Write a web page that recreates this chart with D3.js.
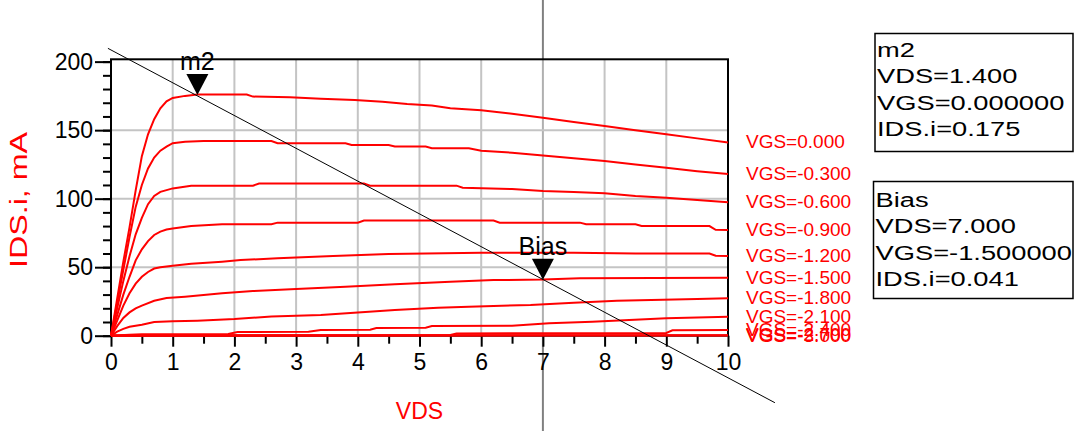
<!DOCTYPE html>
<html>
<head>
<meta charset="utf-8">
<script src="https://cdn.jsdelivr.net/npm/d3@7"></script>
<style>
  body { margin: 0; background: #fff; }
  text { font-family: "Liberation Sans", Arial, sans-serif; }
</style>
</head>
<body>
<svg id="chart" width="1074" height="431"></svg>
<script>
// ---- data ----
var vdsTicks = [0, 1, 2, 3, 4, 5, 6, 7, 8, 9, 10];
var idsTicks = [0, 50, 100, 150, 200];
var vgsLabels = ["VGS=0.000", "VGS=-0.300", "VGS=-0.600", "VGS=-0.900", "VGS=-1.200",
                 "VGS=-1.500", "VGS=-1.800", "VGS=-2.100", "VGS=-2.400", "VGS=-2.700", "VGS=-3.000"];

// [VDS (V), IDS (mA)]
var ids_vgs_0p0 = [[0,0],[0.1,27],[0.2,54],[0.3,79],[0.4,106],[0.5,131],[0.6,147],[0.7,158],[0.8,166],[0.9,171],
  [1.0,173.5],[1.2,175],[1.4,176],[2.2,176],[2.3,174.5],[2.9,174],[3.4,173],[3.95,172],[4.4,170.8],[4.8,169],
  [5.2,168],[5.5,166],[6,164.5],[6.5,162],[7,159],[7.5,156],[8,153],[8.5,150],[9,147],[9.5,144],[10,141]];
var ids_vgs_m0p3 = [[0,0],[0.1,24],[0.2,48],[0.3,72],[0.4,94],[0.5,110],[0.6,122],[0.7,130],[0.8,135],[0.9,138],
  [1.0,140.5],[1.2,141.5],[1.5,142],[2.6,142],[2.7,140.5],[3.8,140.4],[3.9,139.2],[4.5,139.2],[4.6,138],[5.1,138],
  [5.2,136.8],[5.8,136.8],[6,135],[6.5,133.5],[7,131.5],[7.5,129.5],[8,127.5],[8.5,125],[9,122.5],[9.5,120],[10,118]];
var ids_vgs_m0p6 = [[0,0],[0.1,20],[0.2,40],[0.3,58],[0.4,74],[0.5,86],[0.6,96],[0.7,102],[0.8,105],[1.0,107.5],
  [1.3,109.5],[2.3,109.5],[2.4,111],[4.1,111],[4.2,109.5],[5.6,109.5],[5.7,108],[6.5,107],[7,105.6],[7.5,104.8],
  [8,104],[8.5,102],[9,100.7],[9.5,99],[10,97.4]];
var ids_vgs_m0p9 = [[0,0],[0.1,15],[0.2,30],[0.3,43],[0.4,55],[0.5,63],[0.6,69],[0.7,73.5],[0.8,76],[0.9,77.5],
  [1.0,78.3],[1.3,80],[1.8,81.3],[2.6,81.3],[2.7,82.5],[4.0,82.5],[4.1,84],[6.2,84],[6.3,82.5],[7.6,82.5],
  [7.7,81.3],[8.5,81.3],[8.6,80],[9.7,80],[9.8,77.3],[10,77.2]];
var ids_vgs_m1p2 = [[0,0],[0.1,11],[0.2,22],[0.3,31],[0.4,38],[0.5,43],[0.6,46.5],[0.7,49],[0.8,50],[1.0,51],
  [1.3,52.5],[1.8,54],[2.1,55.2],[2.7,56.5],[3.6,58.2],[4.5,59.6],[6,60.6],[7.5,60.6],[8.5,60],[9.7,60],[9.8,58.3],[10,58.2]];
var ids_vgs_m1p5 = [[0,0],[0.1,7],[0.2,13],[0.3,17],[0.4,20],[0.5,22],[0.7,25.5],[0.9,27.5],[1.2,28.5],[1.8,31],
  [2.3,32.6],[3,34],[3.8,35.8],[4.6,37.5],[5.5,39.4],[6.2,40.6],[7,41],[7.6,42],[10,42.3]];
var ids_vgs_m1p8 = [[0,0],[0.1,3],[0.2,5],[0.3,6.5],[0.5,8],[0.7,10],[1,10.5],[1.4,11],[2,12.2],[2.6,14],
  [3.4,15.1],[4,17],[4.6,18.8],[5.3,20.4],[5.8,21.2],[6.8,22.4],[7.5,24],[8.2,25.5],[9.5,26.8],[10,27.3]];
var ids_vgs_m2p1 = [[0,0],[0.3,0.7],[0.5,1],[1.9,1.2],[2.05,2.7],[3.2,2.9],[3.4,4.2],[4.2,4.4],[4.3,5.6],[5.1,5.8],
  [5.2,7],[6.5,7.3],[7.1,9],[7.8,10.2],[9,12.7],[10,13.9]];
var ids_vgs_m2p4 = [[0,0],[0.5,0.3],[5.5,0.6],[5.6,1.6],[9,2],[9.1,4],[10,4.2]];
var ids_vgs_m2p7 = [[0,0],[1,0.2],[10,0.4]];
var ids_vgs_m3p0 = [[0,0],[10,0.1]];
var curves = [ids_vgs_0p0, ids_vgs_m0p3, ids_vgs_m0p6, ids_vgs_m0p9, ids_vgs_m1p2, ids_vgs_m1p5,
              ids_vgs_m1p8, ids_vgs_m2p1, ids_vgs_m2p4, ids_vgs_m2p7, ids_vgs_m3p0];

// load line end points [VDS, IDS]
var loadLine = [[-0.05, 209.7], [10.76, -48.9]];

// markers
var markerNames = ["m2", "Bias"];
var markerVds = [1.4, 7.0];
var markerIds = [175.6, 40.8];
var markerReadouts = [
  ["m2", "VDS=1.400", "VGS=0.000000", "IDS.i=0.175"],
  ["Bias", "VDS=7.000", "VGS=-1.500000", "IDS.i=0.041"]
];

// ---- drawing ----
var svg = d3.select("#chart");

var xScale = d3.scaleLinear().domain([0, 10]).range([111, 728]);
var yScale = d3.scaleLinear().domain([0, 201.7]).range([335.7, 59.3]);

var plotTop = yScale(201.7), plotBottom = yScale(0), plotLeft = xScale(0), plotRight = xScale(10);

// grid
svg.append("g").selectAll("line")
    .data(vdsTicks.slice(1, -1))
    .enter().append("line")
    .attr("x1", function(d) { return xScale(d); })
    .attr("x2", function(d) { return xScale(d); })
    .attr("y1", plotTop).attr("y2", plotBottom)
    .style("stroke", function(d) { return d == 7 ? "#b0b0b0" : "#c4c4c4"; })
    .style("stroke-width", 2);

svg.append("g").selectAll("line")
    .data(idsTicks.slice(1, -1))
    .enter().append("line")
    .attr("x1", plotLeft).attr("x2", plotRight)
    .attr("y1", function(d) { return yScale(d); })
    .attr("y2", function(d) { return yScale(d); })
    .style("stroke", "#c4c4c4")
    .style("stroke-width", 2);

// cursor line at the Bias marker, outside the plot box
svg.append("line")
    .attr("x1", xScale(markerVds[1])).attr("x2", xScale(markerVds[1]))
    .attr("y1", 0).attr("y2", plotTop)
    .style("stroke", "#808080").style("stroke-width", 2);
svg.append("line")
    .attr("x1", xScale(markerVds[1])).attr("x2", xScale(markerVds[1]))
    .attr("y1", plotBottom).attr("y2", 431)
    .style("stroke", "#808080").style("stroke-width", 2);

// axes
var yAxisMinor = d3.axisLeft(yScale).tickValues(d3.range(0, 201, 10)).tickSize(8).tickFormat("");
var yAxis = d3.axisLeft(yScale).tickValues(idsTicks).tickSize(16).tickPadding(2);
var xAxisMinor = d3.axisBottom(xScale).tickValues(d3.range(0.5, 10, 1)).tickSize(8).tickFormat("");
var xAxis = d3.axisBottom(xScale).tickValues(vdsTicks).tickSize(11).tickPadding(7);

function styleAxis(g) {
    g.select(".domain").remove();
    g.selectAll(".tick line").style("stroke", "#000").style("stroke-width", 2);
    g.selectAll(".tick text").style("font-size", "23px").style("fill", "#000")
        .style("font-family", "'Liberation Sans', Arial, sans-serif");
}

svg.append("g").attr("transform", "translate(" + plotLeft + ",0)").call(yAxisMinor).call(styleAxis);
svg.append("g").attr("transform", "translate(" + plotLeft + ",0)").call(yAxis).call(styleAxis);
svg.append("g").attr("transform", "translate(0," + plotBottom + ")").call(xAxisMinor).call(styleAxis);
svg.append("g").attr("transform", "translate(0," + plotBottom + ")").call(xAxis).call(styleAxis);

// frame
svg.append("rect")
    .attr("x", plotLeft).attr("y", plotTop)
    .attr("width", plotRight - plotLeft).attr("height", plotBottom - plotTop)
    .style("fill", "none").style("stroke", "#000").style("stroke-width", 2);

// curves
var line = d3.line()
    .x(function(d) { return xScale(d[0]); })
    .y(function(d) { return yScale(d[1]); });

svg.append("g").selectAll("path")
    .data(curves)
    .enter().append("path")
    .attr("d", line)
    .style("fill", "none")
    .style("stroke", "#ff0000")
    .style("stroke-width", 2);

// curve labels at the right end
svg.append("g").selectAll("text")
    .data(curves)
    .enter().append("text")
    .attr("x", plotRight + 18)
    .attr("y", function(d) { return yScale(d[d.length - 1][1]) + 6; })
    .style("font-size", "19px")
    .style("fill", "#ff0000")
    .text(function(d, i) { return vgsLabels[i]; });

// load line
svg.append("path")
    .datum(loadLine)
    .attr("d", line)
    .style("fill", "none")
    .style("stroke", "#000")
    .style("stroke-width", 1);

// markers
var mk = svg.append("g").selectAll("g")
    .data(markerNames)
    .enter().append("g")
    .attr("transform", function(d, i) {
        return "translate(" + xScale(markerVds[i]) + "," + yScale(markerIds[i]) + ")";
    });
mk.append("path")
    .attr("d", "M-11,-21L11,-21L0,0Z")
    .style("fill", "#000");
mk.append("text")
    .attr("x", 0).attr("y", -25)
    .style("text-anchor", "middle")
    .style("font-size", "25px")
    .style("fill", "#000")
    .text(function(d) { return d; });

// axis titles
svg.append("text")
    .attr("x", xScale(5)).attr("y", 419)
    .style("text-anchor", "middle")
    .style("font-size", "23px")
    .style("fill", "#ff0000")
    .text("VDS");

svg.append("text")
    .attr("transform", "translate(27,200) rotate(-90) scale(1.4,1)")
    .style("text-anchor", "middle")
    .style("font-size", "23px")
    .style("fill", "#ff0000")
    .text("IDS.i, mA");

// marker readout boxes
var boxTops = [33.5, 181.5];
var boxLefts = [875, 873.5];
var boxHeights = [118, 117];
var firstBaselines = [56.7, 206.5];

markerReadouts.forEach(function(lines, b) {
    svg.append("rect")
        .attr("x", boxLefts[b]).attr("y", boxTops[b])
        .attr("width", 1073 - boxLefts[b]).attr("height", boxHeights[b])
        .style("fill", "none").style("stroke", "#000").style("stroke-width", 1.5);
    var g = svg.append("g")
        .attr("transform", "translate(" + (boxLefts[b] + 2) + "," + firstBaselines[b] + ") scale(1.3,1)");
    g.selectAll("text")
        .data(lines)
        .enter().append("text")
        .attr("x", 0)
        .attr("y", function(d, i) { return i * 26.6; })
        .style("font-size", "21px")
        .style("fill", "#000")
        .text(function(d) { return d; });
});
</script>
</body>
</html>
